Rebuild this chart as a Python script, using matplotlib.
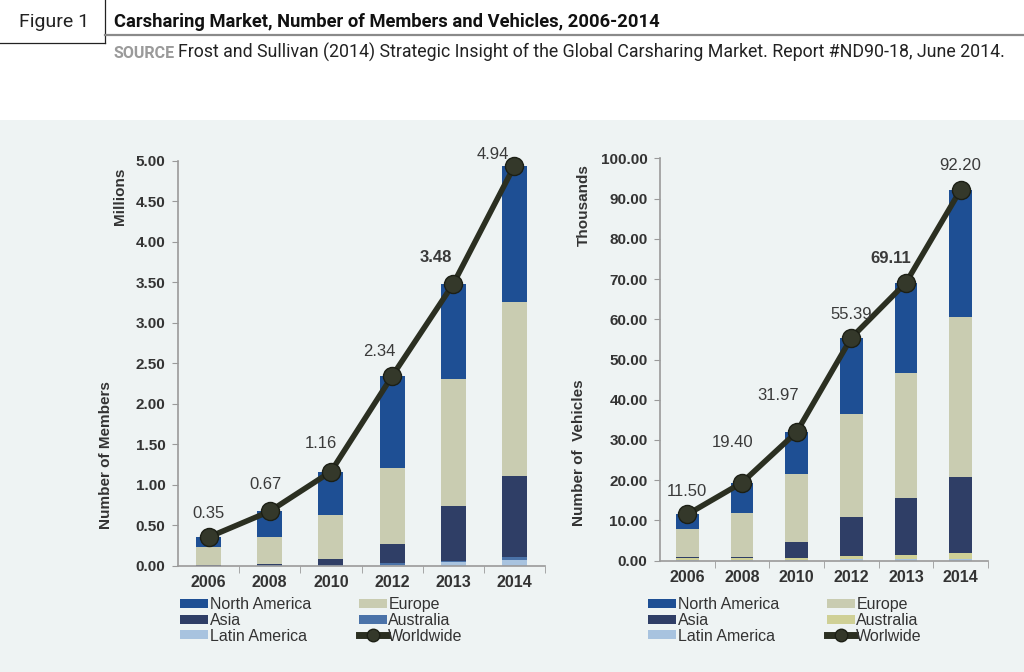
import matplotlib
matplotlib.use("Agg")
import matplotlib.pyplot as plt
from matplotlib.patches import Patch, Rectangle
from matplotlib.lines import Line2D
import numpy as np

# ---------------- data ----------------
years = ['2006', '2008', '2010', '2012', '2013', '2014']

# Members (millions)
members_latam = [0.00, 0.00, 0.00, 0.01, 0.04, 0.07]
members_australia = [0.00, 0.01, 0.01, 0.02, 0.02, 0.03]
members_asia = [0.01, 0.01, 0.07, 0.24, 0.68, 1.01]
members_europe = [0.22, 0.33, 0.55, 0.94, 1.56, 2.15]
members_na = [0.12, 0.32, 0.53, 1.13, 1.18, 1.68]
members_world = [0.35, 0.67, 1.16, 2.34, 3.48, 4.94]
members_labels = ['0.35', '0.67', '1.16', '2.34', '3.48', '4.94']

# Vehicles (thousands)
veh_latam = [0.2, 0.2, 0.2, 0.3, 0.3, 0.3]
veh_australia = [0.4, 0.5, 0.5, 0.8, 1.1, 1.6]
veh_asia = [0.2, 0.3, 3.9, 9.8, 14.2, 19.0]
veh_europe = [7.2, 10.8, 16.9, 25.5, 31.0, 39.6]
veh_na = [3.50, 7.60, 10.47, 18.99, 22.51, 31.70]
veh_world = [11.50, 19.40, 31.97, 55.39, 69.11, 92.20]
veh_labels = ['11.50', '19.40', '31.97', '55.39', '69.11', '92.20']

left_yticks = [0.0, 0.5, 1.0, 1.5, 2.0, 2.5, 3.0, 3.5, 4.0, 4.5, 5.0]
right_yticks = [0, 10, 20, 30, 40, 50, 60, 70, 80, 90, 100]

# ---------------- style ----------------
C_NA = '#1e4f94'
C_EU = '#c9ccb1'
C_ASIA = '#2f3e66'
C_AUS_L = '#4a72a8'
C_AUS_R = '#cfd096'
C_LATAM = '#a8c3df'
C_LINE = '#2b2f21'
BG = '#eef3f3'
TXT = '#333333'

W, H = 1024, 672
fig = plt.figure(figsize=(W / 100, H / 100), dpi=100)
fig.patch.set_facecolor('white')

def fx(px):
    return px / W

def fy(py):
    return 1 - py / H

# background panel
fig.add_artist(Rectangle((0, 0), 1, fy(120), transform=fig.transFigure,
                         facecolor=BG, edgecolor='none', zorder=0))

# header
fig.add_artist(Line2D([fx(0), fx(105)], [fy(42.5), fy(42.5)], transform=fig.transFigure,
                      color='#222222', lw=0.9))
fig.add_artist(Line2D([fx(105), fx(105)], [fy(0), fy(42.5)], transform=fig.transFigure,
                      color='#222222', lw=0.9))
fig.add_artist(Line2D([fx(105), fx(1024)], [fy(34.5), fy(34.5)], transform=fig.transFigure,
                      color='#8a8a8a', lw=1.6))
fig.text(fx(19), fy(22), 'Figure 1', fontsize=14, family='Roboto', fontweight='normal',
         color='#222222', va='center', ha='left')
fig.text(fx(114), fy(22), 'Carsharing Market, Number of Members and Vehicles, 2006-2014',
         fontsize=13.2, family='Roboto', fontweight='bold', color='#111111',
         va='center', ha='left')
src = fig.text(fx(113), fy(57.5), 'SOURCE', fontsize=11.5, family='Roboto', fontweight='bold',
               color='#9a9a9a', va='baseline', ha='left')
renderer = fig.canvas.get_renderer()
bb = src.get_window_extent(renderer=renderer)
fig.text(bb.x1 / W + fx(4), fy(57.5),
         'Frost and Sullivan (2014) Strategic Insight of the Global Carsharing Market. Report #ND90-18, June 2014.',
         fontsize=12.8, family='Roboto', color='#222222', va='baseline', ha='left')


def draw_panel(ax, stacks, colors, world, labels, offsets, yticks, ylim, fmt):
    x = np.arange(len(years))
    bottom = np.zeros(len(years))
    for vals, col in zip(stacks, colors):
        ax.bar(x, vals, width=0.41, bottom=bottom, color=col, edgecolor='none', zorder=2)
        bottom = bottom + np.array(vals)
    ax.plot(x, world, color=C_LINE, lw=4, marker='o', ms=13, mfc='#34382a',
            mec='#1c1f15', mew=1, zorder=4, clip_on=False)
    for xi, yi, lab, (dx, dy), bold in zip(x, world, labels, offsets,
                                           [False, False, False, False, True, False]):
        ax.annotate(lab, (xi, yi), xytext=(dx, dy), textcoords='offset pixels',
                    ha='center', va='center', fontsize=12, family='Liberation Sans',
                    color='#3a3a3a', fontweight='bold' if bold else 'normal', zorder=5)
    ax.set_xlim(-0.5, len(years) - 0.5)
    ax.set_ylim(*ylim)
    ax.set_yticks(yticks)
    ax.set_yticklabels([fmt.format(v) for v in yticks])
    ax.set_xticks(x)
    ax.set_xticklabels(years)
    ax.set_xticks(np.arange(0.5, len(years) + 0.5, 1.0), minor=True)
    ax.tick_params(axis='x', which='major', length=0, pad=7)
    ax.tick_params(axis='x', which='minor', length=5, color='#9a9a9a', direction='out')
    ax.tick_params(axis='y', which='major', length=4, color='#9a9a9a', direction='out', pad=5)
    for lab in ax.get_xticklabels() + ax.get_yticklabels():
        lab.set_fontweight('bold')
        lab.set_color(TXT)
        lab.set_family('Liberation Sans')
    for lab in ax.get_xticklabels():
        lab.set_fontsize(11.5)
    for lab in ax.get_yticklabels():
        lab.set_fontsize(11)
    for s in ['top', 'right']:
        ax.spines[s].set_visible(False)
    for s in ['left', 'bottom']:
        ax.spines[s].set_color('#9a9a9a')
        ax.spines[s].set_linewidth(1.2)
    ax.set_facecolor('none')


# left panel
axL = fig.add_axes([fx(178), fy(565.5), fx(545 - 178), fy(161) - fy(565.5)])
draw_panel(axL,
           [members_latam, members_australia, members_asia, members_europe, members_na],
           [C_LATAM, C_AUS_L, C_ASIA, C_EU, C_NA],
           members_world, members_labels,
           [(0, 24), (-4, 27), (-10, 28), (-13, 25), (-17, 26), (-22, 11)],
           left_yticks, (0, 5.0), '{:.2f}')

# right panel
axR = fig.add_axes([fx(660), fy(560.7), fx(988 - 660), fy(158.3) - fy(560.7)])
draw_panel(axR,
           [veh_latam, veh_australia, veh_asia, veh_europe, veh_na],
           [C_LATAM, C_AUS_R, C_ASIA, C_EU, C_NA],
           veh_world, veh_labels,
           [(0, 23), (-9, 40), (-19, 37), (0, 23), (-15, 24), (0, 24)],
           right_yticks, (0, 100), '{:.2f}')

# axis titles
fig.text(fx(120), fy(196), 'Millions', rotation=90, fontsize=11, fontweight='bold',
         family='Liberation Sans', color=TXT, ha='center', va='center')
fig.text(fx(106), fy(455), 'Number of Members', rotation=90, fontsize=11, fontweight='bold',
         family='Liberation Sans', color=TXT, ha='center', va='center')
fig.text(fx(584), fy(205), 'Thousands', rotation=90, fontsize=11, fontweight='bold',
         family='Liberation Sans', color=TXT, ha='center', va='center')
fig.text(fx(579), fy(453), 'Number of  Vehicles', rotation=90, fontsize=11, fontweight='bold',
         family='Liberation Sans', color=TXT, ha='center', va='center')


def make_legend(x0, aus_color, world_label):
    handles = [Patch(facecolor=C_NA, edgecolor='none'),
               Patch(facecolor=C_ASIA, edgecolor='none'),
               Patch(facecolor=C_LATAM, edgecolor='none'),
               Patch(facecolor=C_EU, edgecolor='none'),
               Patch(facecolor=aus_color, edgecolor='none'),
               Line2D([], [], color=C_LINE, lw=5, marker='o', ms=9, mfc='#34382a', mec='#1c1f15')]
    labels = ['North America', 'Asia', 'Latin America', 'Europe', 'Australia', world_label]
    leg = fig.legend(handles, labels, loc='upper left', ncol=2,
                     bbox_to_anchor=(fx(x0), fy(597)), bbox_transform=fig.transFigure,
                     frameon=False, borderpad=0, borderaxespad=0,
                     prop={'family': 'Liberation Sans', 'size': 11.5},
                     handlelength=1.75, handleheight=0.5, handletextpad=0.1,
                     labelspacing=0.05, columnspacing=3.0)
    for t in leg.get_texts():
        t.set_color('#333333')
    return leg


make_legend(180, C_AUS_L, 'Worldwide')
make_legend(648, C_AUS_R, 'Worlwide')

fig.savefig('out.png', dpi=100, facecolor=fig.get_facecolor())
